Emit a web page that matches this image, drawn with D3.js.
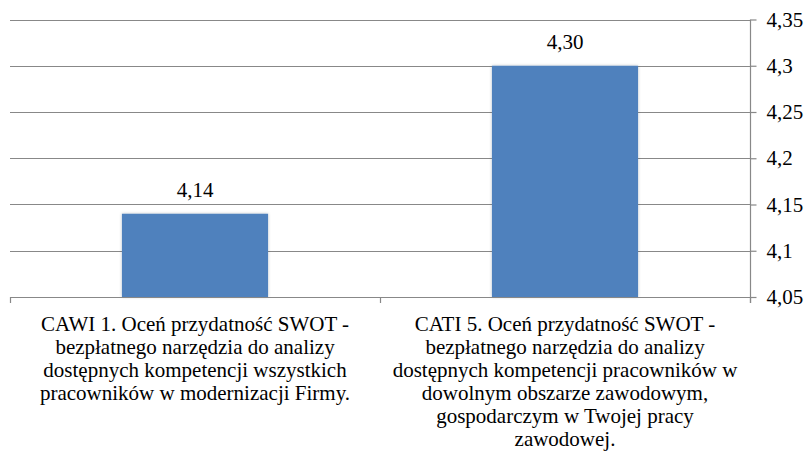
<!DOCTYPE html>
<html>
  <head>
    <meta charset="utf-8">
    <style>
      body { margin: 0; background: #fff; }
      svg { display: block; }
    </style>
    <script src="https://cdn.jsdelivr.net/npm/d3@7"></script>
  </head>
  <body>
    <div id="chart"></div>
  <script>
    // data
    var categories = [
      ["CAWI 1. Oceń przydatność SWOT -", "bezpłatnego narzędzia do analizy", "dostępnych kompetencji wszystkich", "pracowników w modernizacji Firmy."],
      ["CATI 5. Oceń przydatność SWOT -", "bezpłatnego narzędzia do analizy", "dostępnych kompetencji pracowników w", "dowolnym obszarze zawodowym,", "gospodarczym w Twojej pracy", "zawodowej."]
    ];
    var values = [4.14, 4.30];
    var valueLabels = ["4,14", "4,30"];
    var tickValues = [4.05, 4.1, 4.15, 4.2, 4.25, 4.3, 4.35];
    var tickLabels = ["4,05", "4,1", "4,15", "4,2", "4,25", "4,3", "4,35"];

    var width = 807, height = 454;
    var mLeft = 10, mRight = 750, mTop = 19.5, mBottom = 297;
    var serif = "'Liberation Serif', 'Times New Roman', Times, serif";
    var fs = "21px";

    var svg = d3.select("#chart").append("svg")
      .attr("width", width)
      .attr("height", height)
      .style("font-family", serif);

    var defs = svg.append("defs");
    var f = defs.append("filter").attr("id", "shadow")
      .attr("x", "-10%").attr("y", "-10%").attr("width", "120%").attr("height", "120%");
    f.append("feDropShadow").attr("dx", 0).attr("dy", 0).attr("stdDeviation", 1.5)
      .attr("flood-color", "#000").attr("flood-opacity", 0.25);

    var x = d3.scaleBand()
      .domain(d3.range(categories.length))
      .range([mLeft, mRight]);

    var y = d3.scaleLinear()
      .domain([4.05, 4.35])
      .range([mBottom, mTop]);

    // gridlines
    svg.append("g")
      .selectAll("line")
      .data(tickValues.slice(1))
      .enter().append("line")
      .attr("x1", mLeft).attr("x2", mRight)
      .attr("y1", function(d) { return Math.round(y(d)) + 0.5; })
      .attr("y2", function(d) { return Math.round(y(d)) + 0.5; })
      .attr("stroke", "#888")
      .attr("stroke-width", 1.2);

    // bars
    var barW = x.bandwidth() * 0.395;
    svg.append("g")
      .selectAll("rect")
      .data(values)
      .enter().append("rect")
      .attr("x", function(d, i) { return x(i) + x.bandwidth() / 2 - barW / 2; })
      .attr("y", function(d) { return y(d); })
      .attr("width", barW)
      .attr("height", function(d) { return y(4.05) - y(d); })
      .attr("fill", "#4F81BD")
      .attr("filter", "url(#shadow)");

    // value labels
    svg.append("g")
      .selectAll("text")
      .data(values)
      .enter().append("text")
      .style("font-family", serif)
      .attr("x", function(d, i) { return x(i) + x.bandwidth() / 2; })
      .attr("y", function(d) { return y(d) - 16.5; })
      .attr("text-anchor", "middle")
      .attr("font-size", fs)
      .attr("fill", "#000")
      .text(function(d, i) { return valueLabels[i]; });

    // right axis
    var yAxis = d3.axisRight(y)
      .tickValues(tickValues)
      .tickSize(6)
      .tickPadding(10)
      .tickFormat(function(d, i) { return tickLabels[i]; });

    var ya = svg.append("g")
      .attr("transform", "translate(" + (mRight + 0.5) + ",0)")
      .call(yAxis)
      .attr("font-family", null)
      .attr("font-size", null);
    ya.select(".domain").attr("stroke", "#888").attr("stroke-width", 1.2)
      .attr("d", "M0," + mTop + "V" + (mBottom + 6));
    ya.selectAll(".tick line").attr("stroke", "#888").attr("stroke-width", 1.2);
    ya.selectAll(".tick text")
      .style("font-family", serif)
      .style("font-size", fs)
      .attr("fill", "#000")
      .attr("dy", "0.32em");

    // bottom axis
    var xa = svg.append("g").attr("stroke", "#888").attr("stroke-width", 1.2);
    xa.append("line")
      .attr("x1", mLeft).attr("x2", mRight)
      .attr("y1", Math.round(mBottom) + 0.5).attr("y2", Math.round(mBottom) + 0.5);
    xa.selectAll("line.tk")
      .data(d3.range(categories.length + 1))
      .enter().append("line")
      .attr("class", "tk")
      .attr("x1", function(d) { return Math.round(mLeft + d * x.step()) + 0.5; })
      .attr("x2", function(d) { return Math.round(mLeft + d * x.step()) + 0.5; })
      .attr("y1", mBottom).attr("y2", mBottom + 6);

    // category labels
    var cat = svg.append("g")
      .selectAll("text")
      .data(categories)
      .enter().append("text")
      .style("font-family", serif)
      .attr("font-size", fs)
      .attr("fill", "#000")
      .attr("text-anchor", "middle")
      .attr("transform", function(d, i) {
        return "translate(" + (x(i) + x.bandwidth() / 2) + "," + 331 + ")";
      });
    cat.selectAll("tspan")
      .data(function(d) { return d; })
      .enter().append("tspan")
      .attr("x", 0)
      .attr("y", function(d, i) { return i * 23; })
      .text(function(d) { return d; });
  </script>
  </body>
</html>
